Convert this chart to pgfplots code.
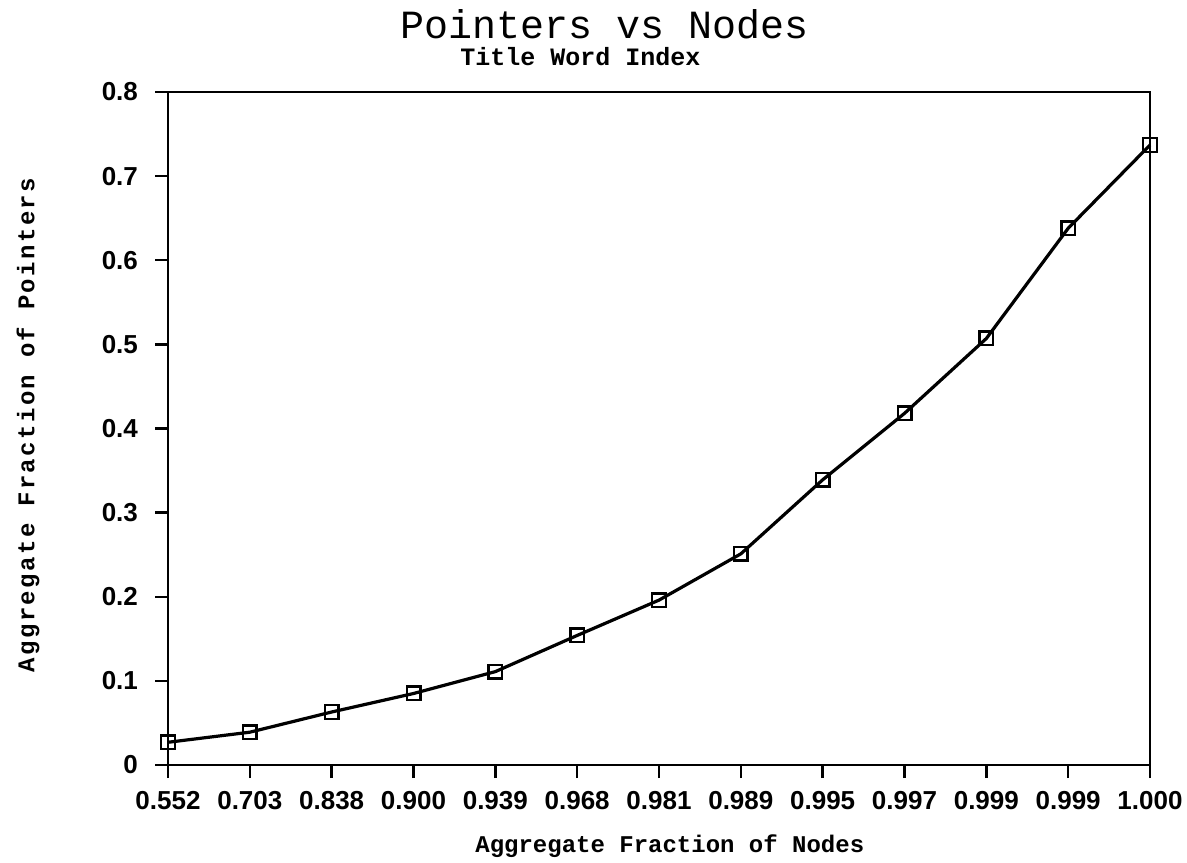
\documentclass[border=0pt]{standalone}
\usepackage{pgfplots}
\pgfplotsset{compat=1.18}
\usepackage{fontspec}
\setmainfont{Liberation Sans}
\newfontfamily\monofont{Liberation Mono}
\newfontfamily\labelfont[LetterSpace=10]{Liberation Mono}
\begin{document}
\begin{tikzpicture}
\path[use as bounding box] (-84pt,-48.5pt) rectangle (509.5pt,382.5pt);
\begin{axis}[
  at={(0,0)}, anchor=south west,
  scale only axis, width=491pt, height=336.5pt,
  xmin=0, xmax=12, ymin=0, ymax=0.8,
  xtick={0,1,2,3,4,5,6,7,8,9,10,11,12},
  xticklabels={0.552,0.703,0.838,0.900,0.939,0.968,0.981,0.989,0.995,0.997,0.999,0.999,1.000},
  ytick={0,0.1,0.2,0.3,0.4,0.5,0.6,0.7,0.8},
  yticklabels={0,0.1,0.2,0.3,0.4,0.5,0.6,0.7,0.8},
  xtick pos=bottom, ytick pos=left, tick align=outside,
  major tick length=6.5pt,
  axis line style={line width=1.4pt},
  major tick style={draw=black, line width=1.2pt},
  ticklabel style={font=\bfseries\fontsize{13}{13}\selectfont},
  xticklabel style={yshift=-3pt},
  yticklabel style={xshift=-5pt},
  /pgf/number format/assume math mode=true,
  clip=false,
  xlabel={Aggregate Fraction of Nodes},
  xlabel style={at={(axis description cs:0.511,-0.13)}, anchor=base, font=\monofont\bfseries\fontsize{12}{12}\selectfont},
  ylabel={Aggregate Fraction of Pointers},
  ylabel style={at={(axis description cs:-0.1426,0.505)}, anchor=center, rotate=0, font=\labelfont\bfseries\fontsize{12}{12}\selectfont},
]
\addplot[black, line width=1.6pt, mark=square, mark size=3.4pt, mark options={line width=1.2pt, fill=white}] coordinates {
  (0,0.027) (1,0.039) (2,0.063) (3,0.085) (4,0.111) (5,0.154) (6,0.196)
  (7,0.251) (8,0.339) (9,0.418) (10,0.507) (11,0.638) (12,0.737)
};
\node[anchor=base, font=\monofont\fontsize{20}{20}\selectfont] at (rel axis cs:0.445,1.08) {Pointers vs Nodes};
\node[anchor=base, font=\monofont\bfseries\fontsize{12.5}{12.5}\selectfont] at (rel axis cs:0.42,1.04) {Title Word Index};
\end{axis}
\end{tikzpicture}
\end{document}
